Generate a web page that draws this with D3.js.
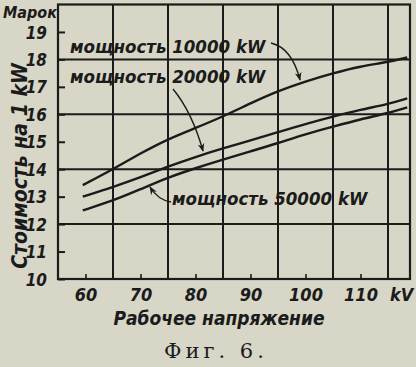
<!DOCTYPE html>
<html>
<head>
<meta charset="utf-8">
<script src="https://cdn.jsdelivr.net/npm/d3@7"></script>
<style>
  body { margin: 0; background: #d7d6c7; }
  svg { display: block; }
  .lbl { font-family: "DejaVu Sans Condensed", "Liberation Sans Narrow", sans-serif; font-style: italic; font-weight: bold; fill: #1b1b1b; }
  .cap { font-family: "DejaVu Serif", "Liberation Serif", serif; fill: #1b1b1b; }
</style>
</head>
<body>
<div id="chart"></div>
<script>
// voltage in kV where curves were read
const voltage = [59.5, 65, 70, 75, 80, 85, 90, 95, 100, 105, 110, 115, 118.5];
// cost per kW, marks
const cost10000 = [13.42, 14.0, 14.58, 15.1, 15.5, 15.92, 16.4, 16.85, 17.2, 17.5, 17.75, 17.9, 18.07];
const cost20000 = [13.0, 13.35, 13.7, 14.1, 14.45, 14.76, 15.05, 15.35, 15.65, 15.92, 16.17, 16.37, 16.58];
const cost50000 = [12.5, 12.85, 13.27, 13.7, 14.04, 14.35, 14.65, 14.95, 15.28, 15.55, 15.82, 16.04, 16.25];
const xTicks = [60, 70, 80, 90, 100, 110];
const xGrid = [65, 75, 85, 95, 105, 115];
const yTicks = [10, 11, 12, 13, 14, 15, 16, 17, 18, 19];
const yGrid = [12, 14, 16, 18];
const seriesNames = ["мощность 10000 kW", "мощность 20000 kW", "мощность 50000 kW"];

const W = 416, H = 367;
const x = d3.scaleLinear().domain([55, 119]).range([58, 410]);
const y = d3.scaleLinear().domain([10, 20]).range([279, 4.5]);
const ink = "#1b1b1b";

const svg = d3.select("#chart").append("svg")
    .attr("width", W).attr("height", H);

svg.append("defs").append("marker")
    .attr("id", "arr")
    .attr("viewBox", "0 0 10 10")
    .attr("refX", 9).attr("refY", 5)
    .attr("markerWidth", 6).attr("markerHeight", 6)
    .attr("orient", "auto")
    .append("path")
    .attr("d", "M0,1 L10,5 L0,9 L3,5 Z")
    .attr("fill", ink);

// grid
const grid = svg.append("g").attr("stroke", ink).attr("stroke-width", 2);
grid.selectAll(".vg").data(xGrid).enter().append("line")
    .attr("x1", d => x(d)).attr("x2", d => x(d))
    .attr("y1", y(20)).attr("y2", y(10));
grid.selectAll(".hg").data(yGrid).enter().append("line")
    .attr("x1", x(55)).attr("x2", x(119))
    .attr("y1", d => y(d)).attr("y2", d => y(d));
svg.append("rect")
    .attr("x", x(55)).attr("y", y(20))
    .attr("width", x(119) - x(55)).attr("height", y(10) - y(20))
    .attr("fill", "none").attr("stroke", ink).attr("stroke-width", 2.2);

// axes
const yAxis = svg.append("g")
    .attr("transform", `translate(${x(55)},0)`)
    .call(d3.axisLeft(y).tickValues(yTicks).tickSizeInner(-7).tickSizeOuter(0).tickPadding(11));
yAxis.select(".domain").remove();
yAxis.selectAll("line").attr("stroke", ink).attr("stroke-width", 2);
yAxis.selectAll("text").attr("class", "lbl").attr("font-size", 17).attr("dy", "0.36em");

const xAxis = svg.append("g")
    .attr("transform", `translate(0,${y(10)})`)
    .call(d3.axisBottom(x).tickValues(xTicks).tickSizeInner(-5).tickSizeOuter(0).tickPadding(9));
xAxis.select(".domain").remove();
xAxis.selectAll("line").attr("stroke", ink).attr("stroke-width", 1.6);
xAxis.selectAll("text").attr("class", "lbl").attr("font-size", 18);

svg.append("text").attr("class", "lbl").attr("font-size", 18)
    .attr("x", x(117.5)).attr("y", 301).attr("text-anchor", "middle").text("kV");

// curves
const line = d3.line().x(d => x(d[0])).y(d => y(d[1])).curve(d3.curveBasis);
[cost10000, cost20000, cost50000].forEach(vals => {
    svg.append("path")
        .datum(voltage.map((v, i) => [v, vals[i]]))
        .attr("d", line)
        .attr("fill", "none").attr("stroke", ink).attr("stroke-width", 2.4);
});

// labels
const labelPos = [[70, 53], [70, 83], [172, 205]];
seriesNames.forEach((t, i) => {
    svg.append("text").attr("class", "lbl").attr("font-size", 18.5)
        .attr("x", labelPos[i][0]).attr("y", labelPos[i][1]).text(t);
});

// leader arrows
const arrows = [
    "M271,43 Q292,48 300,80",
    "M173,89 Q192,112 203,151",
    "M171,202 Q158,200 150,187"
];
arrows.forEach(d => {
    svg.append("path").attr("d", d)
        .attr("fill", "none").attr("stroke", ink).attr("stroke-width", 1.4)
        .attr("marker-end", "url(#arr)");
});

// titles
svg.append("text").attr("class", "lbl").attr("font-size", 16)
    .attr("x", 3).attr("y", 18).text("Марок");
svg.append("text").attr("class", "lbl").attr("font-size", 21)
    .attr("transform", "translate(27,166) rotate(-90)")
    .attr("text-anchor", "middle").text("Стоимость на 1 kW");
svg.append("text").attr("class", "lbl").attr("font-size", 19)
    .attr("x", 219).attr("y", 325).attr("text-anchor", "middle").text("Рабочее напряжение");
svg.append("text").attr("class", "cap").attr("font-size", 21)
    .attr("x", 216).attr("y", 358).attr("text-anchor", "middle")
    .attr("letter-spacing", 4).text("Фиг. 6.");
</script>
</body>
</html>
